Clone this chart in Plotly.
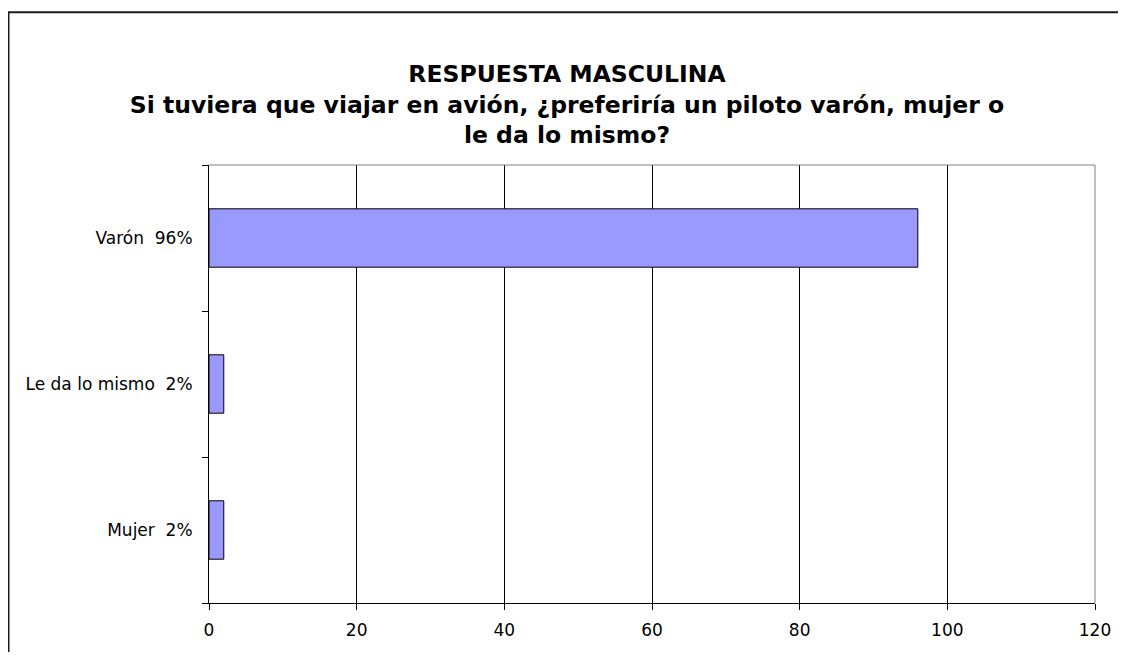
import plotly.graph_objects as go

categories = ["Mujer\u00a0 2%", "Le da lo mismo\u00a0 2%", "Varón\u00a0 96%"]
values = [2, 2, 96]
x_ticks = [0, 20, 40, 60, 80, 100, 120]
title_lines = [
    "RESPUESTA MASCULINA",
    "Si tuviera que viajar en avión, ¿preferiría un piloto varón, mujer o",
    "le da lo mismo?",
]

# figure coords (page is offset by body margin of 8px)
W, H = 1118, 644
L, R, T, B = 201, 31, 157, 40
pw, ph = W - L - R, H - T - B

def px_x(x):
    return (x - L) / pw

def px_y(y):
    return (H - B - y) / ph

fig = go.Figure()
fig.add_trace(go.Bar(
    x=values, y=categories, orientation="h",
    marker=dict(color="#9999FF", line=dict(color="black", width=1)),
    hoverinfo="skip",
))

font = "DejaVu Sans, Arial, sans-serif"
fig.update_layout(
    width=W, height=H,
    margin=dict(l=L, r=R, t=T, b=B),
    paper_bgcolor="white", plot_bgcolor="white",
    showlegend=False,
    bargap=0.6,
    title=dict(
        text="<br>".join(title_lines),
        x=0.5, xref="container", xanchor="center",
        y=1 - 74 / H, yref="container", yanchor="top",
        font=dict(family=font, size=23.5, color="black", weight="bold"),
    ),
    font=dict(family=font, size=17, color="black"),
    xaxis=dict(
        range=[0, 120], tickvals=x_ticks, ticktext=[str(v) for v in x_ticks],
        showgrid=True, gridcolor="black", gridwidth=1,
        showline=True, linecolor="black", linewidth=1,
        ticks="outside", ticklen=6, tickcolor="black",
        zeroline=False, fixedrange=True,
        ticklabelstandoff=6,
        tickfont=dict(family=font, size=17, color="black"),
    ),
    yaxis=dict(
        type="category", categoryorder="array", categoryarray=categories,
        tickson="boundaries", ticks="outside", ticklen=6, tickcolor="black",
        showline=True, linecolor="black", linewidth=1,
        showgrid=False, zeroline=False, fixedrange=True,
        ticklabelstandoff=12,
        tickfont=dict(family=font, size=17, color="black"),
    ),
    shapes=[
        dict(type="line", xref="paper", yref="paper", x0=0, x1=1, y0=1, y1=1,
             line=dict(color="#808080", width=1), layer="above"),
        dict(type="line", xref="paper", yref="paper", x0=1, x1=1, y0=0, y1=1,
             line=dict(color="#808080", width=1), layer="above"),
        dict(type="rect", xref="paper", yref="paper",
             x0=px_x(0.5), x1=px_x(1114), y0=px_y(680), y1=px_y(1),
             line=dict(color="#1a1a1a", width=2), fillcolor="rgba(0,0,0,0)", layer="above"),
    ],
)

fig.write_html("out.html")
